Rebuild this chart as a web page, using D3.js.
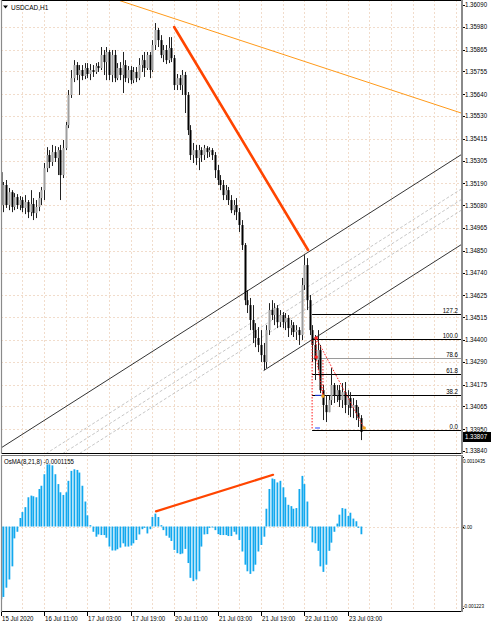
<!DOCTYPE html>
<html>
<head>
<meta charset="utf-8">
<script src="https://cdnjs.cloudflare.com/ajax/libs/d3/7.8.5/d3.min.js"></script>
<style>
  body { margin: 0; background: #fff; }
  svg { display: block; }
  text { font-family: "Liberation Sans", Arial, sans-serif; font-size: 7px; fill: #000; }
</style>
</head>
<body>
<svg id="chart" width="491" height="625"></svg>
<script>
const symbol = "USDCAD,H1";
const osmaName = "OsMA(8,21,8) -0.0001155";
const lastPrice = 1.33807;

const priceTicks = [1.36090, 1.35980, 1.35865, 1.35755, 1.35640, 1.35530, 1.35415, 1.35305, 1.35190, 1.35080,
  1.34965, 1.34850, 1.34740, 1.34625, 1.34515, 1.34400, 1.34290, 1.34175, 1.34065, 1.33950, 1.33840];
const osmaTicks = [0.0010435, 0, -0.001223];
const osmaTickLabels = ["0.0010435", "0.00", "-0.001223"];
const timeLabels = ["15 Jul 2020", "16 Jul 11:00", "17 Jul 03:00", "17 Jul 19:00", "20 Jul 11:00",
  "21 Jul 03:00", "21 Jul 19:00", "22 Jul 11:00", "23 Jul 03:00"];

// hourly bars [open, high, low, close]
const candles = [
  [1.35247,1.35272,1.35045,1.35081],[1.35081,1.35197,1.35045,1.35182],[1.35182,1.35207,1.35066,1.35081],[1.35081,1.35167,1.35055,1.35146],
  [1.35146,1.35156,1.35045,1.35071],[1.35071,1.35141,1.35055,1.35121],[1.35121,1.35136,1.35061,1.35081],[1.35081,1.35126,1.35055,1.35106],
  [1.35106,1.35121,1.35045,1.35066],[1.35066,1.35131,1.35035,1.35096],[1.35096,1.35106,1.35015,1.35045],[1.35045,1.35156,1.35025,1.35086],
  [1.35086,1.35116,1.35005,1.35040],[1.35040,1.35106,1.35015,1.35071],[1.35071,1.35146,1.35050,1.35116],[1.35116,1.35172,1.35081,1.35156],
  [1.35156,1.35293,1.35106,1.35267],[1.35267,1.35373,1.35247,1.35333],[1.35333,1.35358,1.35267,1.35298],[1.35298,1.35384,1.35278,1.35348],
  [1.35348,1.35378,1.35298,1.35318],[1.35318,1.35373,1.35232,1.35358],[1.35358,1.35384,1.35106,1.35232],[1.35232,1.35409,1.35217,1.35368],
  [1.35368,1.35500,1.35358,1.35484],[1.35484,1.35661,1.35469,1.35636],[1.35636,1.35762,1.35621,1.35721],[1.35721,1.35812,1.35701,1.35787],
  [1.35787,1.35802,1.35711,1.35737],[1.35737,1.35787,1.35636,1.35762],[1.35762,1.35787,1.35711,1.35732],[1.35732,1.35797,1.35716,1.35772],
  [1.35772,1.35797,1.35721,1.35742],[1.35742,1.35792,1.35711,1.35762],[1.35762,1.35787,1.35727,1.35752],[1.35752,1.35797,1.35742,1.35782],
  [1.35782,1.35802,1.35752,1.35772],[1.35772,1.35878,1.35762,1.35838],[1.35838,1.35863,1.35737,1.35802],[1.35802,1.35878,1.35711,1.35853],
  [1.35853,1.35863,1.35711,1.35737],[1.35737,1.35863,1.35701,1.35838],[1.35838,1.35863,1.35701,1.35721],[1.35721,1.35797,1.35711,1.35772],
  [1.35772,1.35802,1.35711,1.35737],[1.35737,1.35853,1.35646,1.35787],[1.35787,1.35812,1.35701,1.35721],[1.35721,1.35782,1.35696,1.35762],
  [1.35762,1.35782,1.35691,1.35711],[1.35711,1.35777,1.35696,1.35752],[1.35752,1.35777,1.35701,1.35721],[1.35721,1.35822,1.35711,1.35787],
  [1.35787,1.35838,1.35752,1.35812],[1.35812,1.35853,1.35727,1.35772],[1.35772,1.35853,1.35762,1.35838],[1.35838,1.35853,1.35721,1.35762],
  [1.35762,1.35913,1.35752,1.35888],[1.35888,1.35999,1.35863,1.35964],[1.35964,1.35974,1.35878,1.35913],[1.35913,1.35938,1.35822,1.35838],
  [1.35838,1.35888,1.35802,1.35863],[1.35863,1.35888,1.35792,1.35812],[1.35812,1.35928,1.35797,1.35873],[1.35873,1.35928,1.35802,1.35822],
  [1.35822,1.35838,1.35661,1.35686],[1.35686,1.35742,1.35661,1.35721],[1.35721,1.35737,1.35661,1.35686],[1.35686,1.35762,1.35636,1.35737],
  [1.35737,1.35752,1.35545,1.35636],[1.35636,1.35651,1.35434,1.35459],[1.35459,1.35484,1.35308,1.35333],[1.35333,1.35394,1.35293,1.35358],
  [1.35358,1.35384,1.35283,1.35318],[1.35318,1.35384,1.35257,1.35358],[1.35358,1.35373,1.35298,1.35333],[1.35333,1.35384,1.35308,1.35368],
  [1.35368,1.35378,1.35318,1.35348],[1.35348,1.35373,1.35323,1.35358],[1.35358,1.35368,1.35308,1.35333],[1.35333,1.35348,1.35217,1.35257],
  [1.35257,1.35283,1.35182,1.35207],[1.35207,1.35232,1.35156,1.35182],[1.35182,1.35207,1.35106,1.35131],[1.35131,1.35182,1.35106,1.35156],
  [1.35156,1.35172,1.35081,1.35106],[1.35106,1.35131,1.35040,1.35055],[1.35055,1.35106,1.35030,1.35081],[1.35081,1.35116,1.35005,1.35045],
  [1.35045,1.35066,1.34945,1.34980],[1.34980,1.35005,1.34854,1.34879],[1.34879,1.34889,1.34576,1.34601],[1.34601,1.34652,1.34536,1.34576],
  [1.34576,1.34612,1.34450,1.34501],[1.34501,1.34576,1.34385,1.34450],[1.34450,1.34485,1.34364,1.34410],[1.34410,1.34465,1.34339,1.34375],
  [1.34375,1.34450,1.34289,1.34324],[1.34324,1.34385,1.34248,1.34289],[1.34289,1.34475,1.34258,1.34450],[1.34450,1.34586,1.34425,1.34551],
  [1.34551,1.34601,1.34501,1.34526],[1.34526,1.34586,1.34475,1.34561],[1.34561,1.34576,1.34460,1.34490],[1.34490,1.34551,1.34465,1.34526],
  [1.34526,1.34541,1.34460,1.34490],[1.34490,1.34536,1.34450,1.34511],[1.34511,1.34526,1.34415,1.34460],[1.34460,1.34501,1.34425,1.34475],
  [1.34475,1.34490,1.34415,1.34440],[1.34440,1.34475,1.34400,1.34450],[1.34450,1.34465,1.34375,1.34425],[1.34425,1.34713,1.34400,1.34677],
  [1.34677,1.34828,1.34652,1.34778],[1.34778,1.34813,1.34551,1.34601],[1.34601,1.34627,1.34425,1.34450],[1.34450,1.34475,1.34289,1.34375],
  [1.34375,1.34425,1.34198,1.34299],[1.34299,1.34450,1.34248,1.34349],[1.34349,1.34375,1.34132,1.34147],[1.34147,1.34173,1.33996,1.34072],
  [1.34072,1.34122,1.33986,1.34036],[1.34036,1.34122,1.34036,1.34097],[1.34097,1.34258,1.34072,1.34173],[1.34173,1.34183,1.34082,1.34122],
  [1.34122,1.34173,1.34087,1.34147],[1.34147,1.34173,1.34062,1.34097],[1.34097,1.34183,1.34057,1.34137],[1.34137,1.34188,1.34031,1.34072],
  [1.34072,1.34147,1.34021,1.34107],[1.34107,1.34137,1.34011,1.34057],[1.34057,1.34107,1.34006,1.34072],[1.34072,1.34097,1.33996,1.34031],
  [1.34031,1.34062,1.33961,1.34006],[1.34006,1.34021,1.33895,1.33936]
];

const osma = [
  -0.001091,-0.001057,-0.000918,-0.000795,-0.000598,-0.000178,-0.000079,
  0.000128,0.000217,0.000291,0.000439,0.000464,0.000454,0.000439,0.000563,0.000612,0.000785,
  0.000933,0.000933,0.000918,0.000785,0.000637,0.000514,0.000474,0.000514,0.000686,0.000835,
  0.000859,0.000849,0.000810,0.000612,0.000375,0.000168,0.000020,
  -0.000079,-0.000153,-0.000119,-0.000128,-0.000128,-0.000168,-0.000301,-0.000360,-0.000360,-0.000341,
  -0.000316,-0.000252,-0.000301,-0.000301,-0.000286,-0.000252,-0.000202,-0.000119,-0.000040,-0.000020,
  -0.000104,-0.000040,
  0.000143,0.000193,0.000143,0.000020,
  -0.000054,-0.000138,-0.000168,-0.000217,-0.000351,-0.000400,-0.000415,-0.000405,-0.000336,-0.000548,
  -0.000770,-0.000820,-0.000795,-0.000672,-0.000301,-0.000119,-0.000114,-0.000020,-0.000015,-0.000054,
  -0.000114,-0.000128,-0.000128,-0.000128,-0.000143,-0.000143,-0.000079,-0.000119,-0.000202,-0.000375,
  -0.000573,-0.000672,-0.000711,-0.000672,-0.000573,-0.000375,-0.000277,-0.000153,
  0.000267,0.000563,0.000721,0.000711,0.000662,0.000686,0.000588,0.000439,0.000326,0.000306,
  0.000267,0.000277,0.000563,0.000760,0.000637,0.000375,
  -0.000015,-0.000237,-0.000252,-0.000365,-0.000598,-0.000681,-0.000573,-0.000365,-0.000242,-0.000079,
  0.000044,0.000178,0.000277,0.000267,0.000158,0.000207,0.000119,0.000079,
  -0.000020,-0.000116
];

// drawn objects: [bar index, price]
const trendThin = [[45.5, 1.36105], [169.5, 1.35547]];
const trendThick = [[64.0, 1.35979], [113.4, 1.34854]];
const channelTop = [[40, 1.34203], [113, 1.34839]];
const channelWidth = 0.00454;
const channelLowerFrom = 97;
const channelLevels = [0.382, 0.5, 0.618];
const fibLevels = [0, 38.2, 61.8, 78.6, 100, 127.2];
const fibZero = 1.33946, fibFull = 1.34405, fibFrom = 114.9;
const zigzag = [
  [[114.9, 1.34400], [114.9, 1.33946]],
  [[116.4, 1.34410], [134.1, 1.33956]],
  [[116.4, 1.34410], [116.4, 1.34314]],
  [[116.4, 1.34314], [118.9, 1.34117]],
  [[118.9, 1.34299], [118.9, 1.34117]]
];
const zigDots = [[116.4, 1.34410, "#ff2020"], [116.4, 1.34314, "#ff2020"], [118.9, 1.34117, "#f0a020"], [134.1, 1.33956, "#f0a020"]];
const blueMarks = [[[116, 1.34121], [119, 1.34121]], [[116, 1.33956], [117.8, 1.33956]]];
const osmaTrend = [[57.3, 0.000228], [100.5, 0.000776]];

const svg = d3.select("#chart");
const left = 1, right = 461, mainBottom = 453, subTop = 455, subBottom = 611;
const gridColor = "#f1dccb";

const x = d3.scaleLinear().domain([0, 128]).range([0.7, 347.6]);
const y = d3.scaleLinear().domain([1.33840, 1.36090]).range([451, 5]);
const yo = d3.scaleLinear().domain([-0.001223, 0.0010435]).range([608, 457]);

function squeeze(sel, k = 0.87) {
  sel.each(function () {
    const len = this.getComputedTextLength();
    d3.select(this).attr("textLength", len * k).attr("lengthAdjust", "spacingAndGlyphs");
  });
}

const defs = svg.append("defs");
defs.append("clipPath").attr("id", "mainClip").append("rect")
  .attr("x", left).attr("y", 0).attr("width", right - left).attr("height", mainBottom);
defs.append("clipPath").attr("id", "subClip").append("rect")
  .attr("x", left).attr("y", subTop).attr("width", right - left).attr("height", subBottom - subTop);

// grid
const vGrid = d3.range(8, 200, 8).filter(i => x(i) < right - 2);
const grid = svg.append("g").attr("stroke", gridColor).attr("stroke-dasharray", "2,2");
grid.selectAll("line.v").data(vGrid).join("line")
  .attr("x1", i => Math.round(x(i)) + 0.5).attr("x2", i => Math.round(x(i)) + 0.5)
  .attr("y1", 0).attr("y2", mainBottom);
grid.selectAll("line.vs").data(vGrid).join("line")
  .attr("x1", i => Math.round(x(i)) + 0.5).attr("x2", i => Math.round(x(i)) + 0.5)
  .attr("y1", subTop).attr("y2", subBottom);
grid.selectAll("line.h").data(priceTicks.slice(1, -1)).join("line")
  .attr("x1", left).attr("x2", right)
  .attr("y1", d => Math.round(y(d)) + 0.5).attr("y2", d => Math.round(y(d)) + 0.5);
grid.append("line").attr("x1", left).attr("x2", right)
  .attr("y1", Math.round(yo(0)) + 0.5).attr("y2", Math.round(yo(0)) + 0.5);

// objects behind the bars
const main = svg.append("g").attr("clip-path", "url(#mainClip)");

function at(p1, p2, i) {
  const t = (i - p1[0]) / (p2[0] - p1[0]);
  return [i, p1[1] + t * (p2[1] - p1[1])];
}
function seg(g, a, b, color, w, dash) {
  return g.append("line")
    .attr("x1", x(a[0])).attr("y1", y(a[1]))
    .attr("x2", x(b[0])).attr("y2", y(b[1]))
    .attr("stroke", color).attr("stroke-width", w)
    .attr("stroke-dasharray", dash || null);
}

// channel
const shift = (p, k) => [p[0], p[1] - channelWidth * k];
seg(main, at(channelTop[0], channelTop[1], -2), at(channelTop[0], channelTop[1], 175), "#000", 0.8);
seg(main, shift(at(channelTop[0], channelTop[1], channelLowerFrom), 1), shift(at(channelTop[0], channelTop[1], 175), 1), "#000", 0.8);
channelLevels.forEach(k => {
  seg(main, shift(at(channelTop[0], channelTop[1], -2), k), shift(at(channelTop[0], channelTop[1], 175), k), "#b8b8b8", 0.8, "3,2");
});

// fibonacci
fibLevels.forEach(r => {
  const p = fibZero + r / 100 * (fibFull - fibZero);
  const yy = Math.round(y(p)) + 0.5;
  main.append("line").attr("x1", x(fibFrom)).attr("x2", right).attr("y1", yy).attr("y2", yy)
    .attr("stroke", r === 78.6 ? "#9a9a9a" : "#000").attr("stroke-width", 1);
  main.append("text").attr("x", right - 3).attr("y", yy - 1.5).attr("text-anchor", "end")
    .text(r.toFixed(1)).call(squeeze);
});

// candles
const cx = i => Math.round(x(i));
main.selectAll("line.wick").data(candles).join("line")
  .attr("x1", (d, i) => cx(i) + 0.5).attr("x2", (d, i) => cx(i) + 0.5)
  .attr("y1", d => y(d[1])).attr("y2", d => y(d[2]))
  .attr("stroke", "#222").attr("stroke-width", 1);
main.selectAll("rect.body").data(candles).join("rect")
  .attr("x", (d, i) => cx(i) - 0.5).attr("width", 2)
  .attr("y", d => y(Math.max(d[0], d[3])))
  .attr("height", d => Math.max(1, Math.abs(y(d[0]) - y(d[3]))))
  .attr("fill", d => d[3] >= d[0] ? "#9e9e9e" : "#000");

// trend lines
seg(main, at(trendThin[0], trendThin[1], 30), at(trendThin[0], trendThin[1], 175), "#ff9a1a", 1);
seg(main, trendThick[0], trendThick[1], "#ff4500", 2.6).attr("stroke-linecap", "round");

// zigzag markup
zigzag.forEach(s => seg(main, s[0], s[1], "#ff1a1a", 1, "1.5,1.5"));
blueMarks.forEach(s => seg(main, s[0], s[1], "#2040ff", 1));
main.selectAll("circle.dot").data(zigDots).join("circle")
  .attr("cx", d => x(d[0])).attr("cy", d => y(d[1])).attr("r", 1.8)
  .attr("fill", d => d[2]);

// OsMA histogram
const sub = svg.append("g").attr("clip-path", "url(#subClip)");
sub.selectAll("rect.h").data(osma).join("rect")
  .attr("x", (d, i) => cx(i) - 0.5).attr("width", 1.8)
  .attr("y", d => Math.min(yo(d), yo(0)))
  .attr("height", d => Math.abs(yo(d) - yo(0)))
  .attr("fill", "#12a8ee");
sub.append("line")
  .attr("x1", x(osmaTrend[0][0])).attr("y1", yo(osmaTrend[0][1]))
  .attr("x2", x(osmaTrend[1][0])).attr("y2", yo(osmaTrend[1][1]))
  .attr("stroke", "#ff4500").attr("stroke-width", 2.2).attr("stroke-linecap", "round");

// frames
const frame = svg.append("g").attr("fill", "none");
frame.append("line").attr("x1", left).attr("x2", right).attr("y1", 0.5).attr("y2", 0.5).attr("stroke", "#000");
frame.append("line").attr("x1", left).attr("x2", right).attr("y1", mainBottom + 0.5).attr("y2", mainBottom + 0.5).attr("stroke", "#000");
frame.append("line").attr("x1", left).attr("x2", right).attr("y1", subTop + 0.5).attr("y2", subTop + 0.5).attr("stroke", "#777");
frame.append("line").attr("x1", left).attr("x2", right).attr("y1", subBottom + 0.5).attr("y2", subBottom + 0.5).attr("stroke", "#000");
[[0, mainBottom + 1], [subTop, subBottom + 1]].forEach(r => {
  frame.append("line").attr("x1", left + 0.5).attr("x2", left + 0.5).attr("y1", r[0]).attr("y2", r[1]).attr("stroke", "#8a8a8a").attr("stroke-width", 1.2);
  frame.append("line").attr("x1", right + 1).attr("x2", right + 1).attr("y1", r[0]).attr("y2", r[1]).attr("stroke", "#8a8a8a").attr("stroke-width", 2);
});

// price axis
const pa = svg.append("g");
pa.selectAll("line").data(priceTicks).join("line")
  .attr("x1", right + 2).attr("x2", right + 4)
  .attr("y1", d => Math.round(y(d)) + 0.5).attr("y2", d => Math.round(y(d)) + 0.5)
  .attr("stroke", "#000");
pa.selectAll("text").data(priceTicks).join("text")
  .attr("x", right + 4).attr("y", d => y(d)).attr("dy", "0.35em")
  .text(d => d.toFixed(5)).call(squeeze);

// current price box
const lpY = Math.min(y(lastPrice), y(priceTicks[priceTicks.length - 1]) - 14);
svg.append("rect").attr("x", right + 2).attr("y", lpY - 5).attr("width", 491 - right - 2).attr("height", 10).attr("fill", "#000");
svg.append("text").attr("x", right + 4).attr("y", lpY).attr("dy", "0.35em")
  .style("fill", "#fff").text(lastPrice.toFixed(5)).call(squeeze);

// OsMA axis
svg.selectAll("text.oa").data(osmaTicks).join("text")
  .attr("x", right + 2)
  .attr("y", d => Math.max(yo.range()[1] + 4, Math.min(yo.range()[0] - 2, yo(d))))
  .attr("dy", "0.35em")
  .style("font-size", "6px")
  .text((d, i) => osmaTickLabels[i]).call(squeeze, 0.78);
svg.selectAll("line.ot").data(osmaTicks).join("line")
  .attr("x1", right + 2).attr("x2", right + 3)
  .attr("y1", d => Math.round(yo(d)) + 0.5).attr("y2", d => Math.round(yo(d)) + 0.5)
  .attr("stroke", "#000");

// time axis
const ta = svg.append("g");
ta.selectAll("line").data(timeLabels).join("line")
  .attr("x1", (d, i) => cx(i * 16) + 0.5).attr("x2", (d, i) => cx(i * 16) + 0.5)
  .attr("y1", subBottom + 1).attr("y2", subBottom + 5).attr("stroke", "#000");
ta.selectAll("text").data(timeLabels).join("text")
  .attr("x", (d, i) => cx(i * 16) + 1).attr("y", 621)
  .text(d => d).call(squeeze);

// titles
svg.append("path").attr("d", "M3,5.5 L8,5.5 L5.5,8.5 Z").attr("fill", "#000");
svg.append("text").attr("x", 11).attr("y", 9.5).text(symbol).call(squeeze, 0.92);
svg.append("text").attr("x", 4).attr("y", 464).text(osmaName).call(squeeze);
</script>
</body>
</html>
